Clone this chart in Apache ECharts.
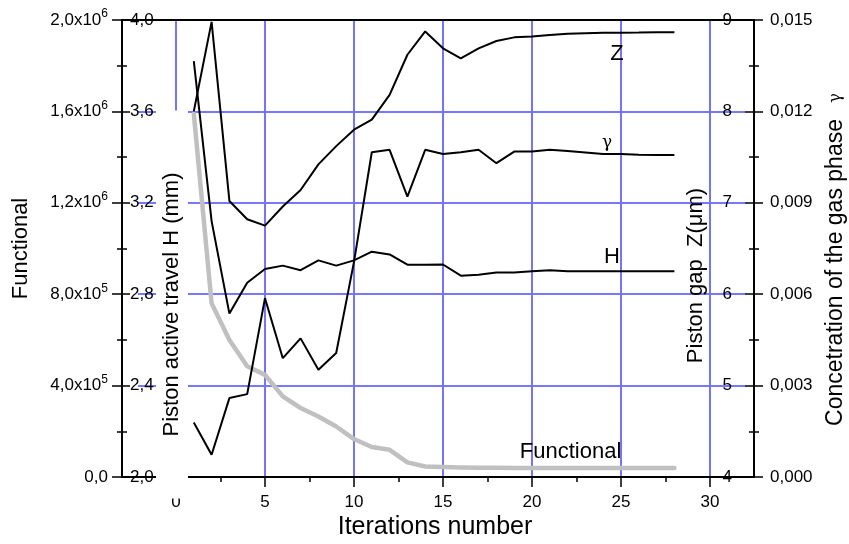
<!DOCTYPE html>
<html>
<head>
<meta charset="utf-8">
<script src="https://cdn.jsdelivr.net/npm/echarts@6/dist/echarts.min.js"></script>
<style>
  html, body { margin: 0; padding: 0; background: #fff; }
  #chart { width: 849px; height: 544px; }
</style>
</head>
<body>
<div id="chart"></div>
<script>
// Optimisation history: iteration number vs. objective functional and the three parameters
const iterations = [1, 2, 3, 4, 5, 6, 7, 8, 9, 10, 11, 12, 13, 14, 15, 16, 17, 18, 19, 20, 21, 22, 23, 24, 25, 26, 27, 28];
const functional = [1.59e6, 7.6e5, 6.0e5, 4.85e5, 4.47e5, 3.53e5, 3.02e5, 2.65e5, 2.21e5, 1.66e5, 1.31e5, 1.19e5, 6.4e4, 4.6e4,
                    4.4e4, 4.2e4, 4.1e4, 4.0e4, 3.9e4, 3.9e4, 3.9e4, 3.9e4, 3.9e4, 3.9e4, 3.9e4, 3.9e4, 3.9e4, 3.9e4];
const travelH = [3.82, 3.12, 2.715, 2.85, 2.91, 2.925, 2.905, 2.948, 2.925, 2.948, 2.986, 2.974, 2.929, 2.929,
                 2.93, 2.881, 2.885, 2.895, 2.895, 2.9, 2.905, 2.9, 2.9, 2.9, 2.9, 2.9, 2.9, 2.9];
const gapZ = [8.0, 8.98, 7.02, 6.82, 6.75, 6.96, 7.14, 7.42, 7.62, 7.80, 7.91, 8.18, 8.62, 8.875,
              8.69, 8.58, 8.69, 8.77, 8.81, 8.82, 8.835, 8.85, 8.855, 8.86, 8.86, 8.862, 8.865, 8.865];
const gammaConc = [0.00179, 0.00073, 0.00259, 0.00272, 0.00587, 0.0039, 0.00455, 0.00352, 0.00407, 0.00706, 0.01066, 0.01074, 0.0092, 0.01074,
                   0.0106, 0.01066, 0.01074, 0.0103, 0.01068, 0.01068, 0.01074, 0.0107, 0.01065, 0.0106, 0.0106, 0.01058, 0.01057, 0.01057];

// Tick labels of the four value axes
const functionalTicks = ['0,0', '4,0x10{s|5}', '8,0x10{s|5}', '1,2x10{s|6}', '1,6x10{s|6}', '2,0x10{s|6}'];
const travelTicks = ['2,0', '2,4', '2,8', '3,2', '3,6', '4,0'];
const gapTicks = ['4', '5', '6', '7', '8', '9'];
const gammaTicks = ['0,000', '0,003', '0,006', '0,009', '0,012', '0,015'];

const FONT = 'Arial, "Liberation Sans", sans-serif';
const GREEK = '"DejaVu Serif", "DejaVu Sans", serif';
const BLACK = '#000';
const TICK_SIZE = 17;
const TITLE_SIZE = 22;

function pairs(ys) { return iterations.map((x, i) => [x, ys[i]]); }
function byTick(labels, min, step) {
  return v => labels[Math.round((v - min) / step)] ?? '';
}
function note(text, idx, ys, offset, size, family) {
  return {
    coord: [iterations[idx], ys[idx]],
    label: { show: true, formatter: text, offset: offset, fontSize: size, color: BLACK, fontFamily: family || FONT }
  };
}
const noLine = { show: false, onZero: false };
const hidden = { axisLine: noLine, axisTick: { show: false }, axisLabel: { show: false }, splitLine: { show: false } };
const markStyle = { symbol: 'circle', symbolSize: 1, silent: true, itemStyle: { color: 'rgba(0,0,0,0)' }, label: { position: 'inside' } };
const tickLine = { color: BLACK, width: 1.5 };

const chart = echarts.init(document.getElementById('chart'), null, { renderer: 'canvas' });

chart.setOption({
  animation: false,
  backgroundColor: '#fff',
  textStyle: { fontFamily: FONT, color: BLACK },
  grid: [
    // data area
    { left: 176, right: 139, top: 20, bottom: 67, containLabel: false, outerBoundsMode: 'none' },
    // outer frame lines
    { left: 122, right: 95, top: 20, bottom: 67, containLabel: false, outerBoundsMode: 'none' },
    // horizontal guide lines
    { left: 138, right: 104, top: 20, bottom: 67, containLabel: false, outerBoundsMode: 'none' },
    // holder for the travel title
    { left: 188, right: 640, top: 112, bottom: 47, containLabel: false, outerBoundsMode: 'none' }
  ],
  xAxis: [
    {
      gridIndex: 0, type: 'value', min: 0, max: 30, interval: 5, position: 'bottom',
      name: 'Iterations number', nameLocation: 'middle', nameGap: 38, nameMoveOverlap: false,
      nameTextStyle: { fontSize: 25, color: BLACK, fontFamily: FONT, padding: [0, 16, 0, 0] },
      axisLine: { show: true, onZero: false, lineStyle: { color: BLACK, width: 2 } },
      axisTick: { show: true, inside: false, length: 10, lineStyle: tickLine },
      minorTick: { show: true, splitNumber: 2, length: 5, lineStyle: tickLine },
      axisLabel: { fontSize: TICK_SIZE, color: BLACK, margin: 17, fontFamily: FONT },
      splitLine: { show: true, lineStyle: { color: '#7474ff', width: 2 } }
    },
    { gridIndex: 1, type: 'value', min: 0, max: 1, position: 'bottom', ...hidden,
      axisLine: { show: true, onZero: false, lineStyle: { color: BLACK, width: 2 } } },
    { gridIndex: 1, type: 'value', min: 0, max: 1, position: 'top', ...hidden,
      axisLine: { show: true, onZero: false, lineStyle: { color: BLACK, width: 2 } } },
    { gridIndex: 2, type: 'value', min: 0, max: 1, show: false, axisLine: noLine },
    { gridIndex: 3, type: 'value', min: 0, max: 1, show: false, axisLine: noLine }
  ],
  yAxis: [
    // 0: Functional
    {
      gridIndex: 0, type: 'value', min: 0, max: 2e6, interval: 4e5, position: 'left', offset: 54,
      name: 'Functional', nameLocation: 'middle', nameGap: 90, nameMoveOverlap: false,
      nameTextStyle: { fontSize: TITLE_SIZE, color: BLACK, fontFamily: FONT },
      axisLine: { show: true, onZero: false, lineStyle: { color: BLACK, width: 2 } },
      axisTick: { show: true, inside: false, length: 10, lineStyle: tickLine },
      minorTick: { show: true, splitNumber: 2, length: 5, lineStyle: tickLine },
      axisLabel: {
        fontSize: TICK_SIZE, lineHeight: 24, color: BLACK, margin: 14, fontFamily: FONT,
        formatter: byTick(functionalTicks, 0, 4e5),
        rich: { s: { fontSize: 12, lineHeight: 12, verticalAlign: 'top', color: BLACK, fontFamily: FONT } }
      },
      splitLine: { show: false }
    },
    // 1: piston active travel H
    {
      gridIndex: 0, type: 'value', min: 2, max: 4, interval: 0.4, position: 'left', offset: 54,
      axisLine: noLine,
      axisTick: { show: true, inside: true, length: 8, lineStyle: tickLine },
      minorTick: { show: true, splitNumber: 2, length: 5, lineStyle: tickLine },
      axisLabel: { inside: true, fontSize: TICK_SIZE, color: BLACK, margin: 8, fontFamily: FONT,
                   formatter: byTick(travelTicks, 2, 0.4) },
      splitLine: { show: false }
    },
    // 2: piston gap Z
    {
      gridIndex: 0, type: 'value', min: 4, max: 9, interval: 1, position: 'right', offset: 35,
      axisLine: noLine, axisTick: { show: false },
      axisLabel: { inside: true, fontSize: TICK_SIZE, color: BLACK, margin: 13, fontFamily: FONT,
                   formatter: byTick(gapTicks, 4, 1) },
      splitLine: { show: false }
    },
    // 3: gas phase concentration
    {
      gridIndex: 0, type: 'value', min: 0, max: 0.015, interval: 0.003, position: 'right', offset: 44,
      name: 'Concetration of the gas phase {g|γ}', nameLocation: 'middle', nameGap: 70, nameMoveOverlap: false,
      nameTextStyle: { fontSize: 23, color: BLACK, fontFamily: FONT, padding: [0, 22, 0, 0],
                       rich: { g: { fontSize: 16, color: BLACK, fontFamily: GREEK, padding: [0, 0, 0, 10] } } },
      axisLine: { show: true, onZero: false, lineStyle: { color: BLACK, width: 2 } },
      axisTick: { show: true, inside: false, length: 9, lineStyle: tickLine },
      minorTick: { show: true, splitNumber: 2, length: 5, lineStyle: tickLine },
      axisLabel: { fontSize: TICK_SIZE, color: BLACK, margin: 16, fontFamily: FONT,
                   formatter: byTick(gammaTicks, 0, 0.003) },
      splitLine: { show: false }
    },
    // 4: inner ticks of the concentration axis
    {
      gridIndex: 0, type: 'value', min: 0, max: 0.015, interval: 0.003, position: 'right', offset: 44,
      axisLine: noLine,
      axisTick: { show: true, inside: true, length: 9, lineStyle: tickLine },
      minorTick: { show: true, splitNumber: 2, length: 5, lineStyle: tickLine },
      axisLabel: { show: false }, splitLine: { show: false }
    },
    // 5: title of the gap axis, drawn inside the plot
    {
      gridIndex: 0, type: 'value', min: 4, max: 9, position: 'right', offset: -25, ...hidden,
      name: 'Piston gap  Z(μm)', nameLocation: 'middle', nameGap: 0, nameMoveOverlap: false,
      nameTextStyle: { fontSize: TITLE_SIZE, color: BLACK, fontFamily: FONT, padding: [0, 54, 0, 0] }
    },
    // 6: frame holder
    { gridIndex: 1, type: 'value', min: 0, max: 1, show: false, axisLine: noLine },
    // 7: horizontal guide lines
    {
      gridIndex: 2, type: 'value', min: 0, max: 5, interval: 1, position: 'left',
      axisLine: noLine, axisTick: { show: false }, axisLabel: { show: false },
      splitLine: { show: true, showMinLine: false, showMaxLine: false, lineStyle: { color: '#4a4aff', width: 1.5 } }
    },
    // 8: title of the travel axis, on an opaque band
    {
      gridIndex: 3, type: 'value', min: 0, max: 1, position: 'left', z: 6, ...hidden,
      name: 'Piston active travel H (mm)', nameLocation: 'middle', nameGap: 0, nameMoveOverlap: false,
      nameTextStyle: { fontSize: TITLE_SIZE, lineHeight: 24, color: BLACK, fontFamily: FONT,
                       backgroundColor: '#fff', padding: [4, 62, 4, 62] }
    }
  ],
  series: [
    {
      name: 'Functional', type: 'line', xAxisIndex: 0, yAxisIndex: 0, z: 2,
      data: pairs(functional), showSymbol: false, symbol: 'none',
      lineStyle: { color: '#c0c0c0', width: 4.5, cap: 'round', join: 'round' },
      markPoint: { ...markStyle, data: [note('Functional', 21, functional, [3, -16], TITLE_SIZE)] }
    },
    {
      name: 'H', type: 'line', xAxisIndex: 0, yAxisIndex: 1, z: 3,
      data: pairs(travelH), showSymbol: false, symbol: 'none',
      lineStyle: { color: BLACK, width: 2 },
      markPoint: { ...markStyle, data: [note('H', 24, travelH, [-9, -14], TITLE_SIZE)] }
    },
    {
      name: 'Z', type: 'line', xAxisIndex: 0, yAxisIndex: 2, z: 3,
      data: pairs(gapZ), showSymbol: false, symbol: 'none',
      lineStyle: { color: BLACK, width: 2 },
      markPoint: { ...markStyle, data: [note('Z', 24, gapZ, [-4, 21], TITLE_SIZE)] }
    },
    {
      name: 'gamma', type: 'line', xAxisIndex: 0, yAxisIndex: 3, z: 3,
      data: pairs(gammaConc), showSymbol: false, symbol: 'none',
      lineStyle: { color: BLACK, width: 2 },
      markPoint: { ...markStyle, data: [note('γ', 23, gammaConc, [4, -11], 17, GREEK)] }
    }
  ]
});
</script>
</body>
</html>
